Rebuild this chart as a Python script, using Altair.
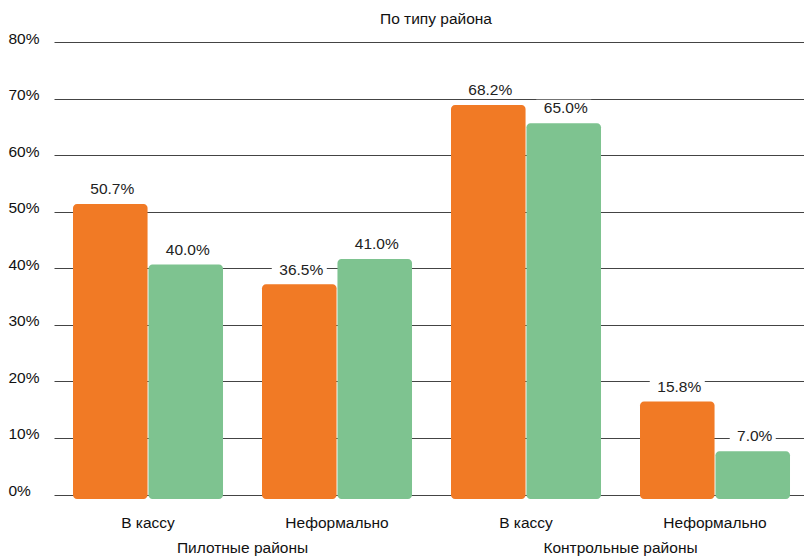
import altair as alt
import pandas as pd

# Survey shares by district type and payment channel
groups = ["Пилотные районы", "Пилотные районы", "Контрольные районы", "Контрольные районы"]
categories = ["В кассу", "Неформально", "В кассу", "Неформально"]
series_names = ["Серия 1", "Серия 2"]
series_1 = [50.7, 36.5, 68.2, 15.8]
series_2 = [40.0, 41.0, 65.0, 7.0]
series_colors = ["#F17A25", "#7EC390"]
y_ticks = [0, 10, 20, 30, 40, 50, 60, 70, 80]

keys = [f"{g}|{c}" for g, c in zip(groups, categories)]

rows = []
for k, v1, v2 in zip(keys, series_1, series_2):
    for name, v in zip(series_names, (v1, v2)):
        rows.append({"key": k, "series": name, "value": v, "base": 0, "label": f"{v:.1f}%"})
df = pd.DataFrame(rows)

group_rows = []
for g in dict.fromkeys(groups):
    first_key = keys[groups.index(g)]
    group_rows.append({"key": first_key, "group": g})
gdf = pd.DataFrame(group_rows)

FONT = "Liberation Sans"
PLOT_W, PLOT_H = 750, 452.5

x_enc = alt.X(
    "key:N",
    scale=alt.Scale(domain=keys, paddingInner=0.2063, paddingOuter=0.0873, align=0.576),
    axis=alt.Axis(
        title=None,
        domain=False,
        ticks=False,
        labelAngle=0,
        labelPadding=21,
        labelFontSize=15.5,
        labelColor="#111",
        labelExpr="split(datum.value, '|')[1]",
    ),
)
xoff_enc = alt.XOffset(
    "series:N", scale=alt.Scale(domain=series_names, paddingInner=0.012, paddingOuter=0)
)
y_enc = alt.Y(
    "value:Q",
    stack=None,
    scale=alt.Scale(domain=[0, 80], nice=False),
    axis=alt.Axis(
        title=None,
        values=y_ticks,
        domain=False,
        ticks=False,
        grid=True,
        gridColor="#444",
        gridWidth=1,
        labelAlign="left",
        labelPadding=46,
        labelOffset=-4,
        labelFontSize=15.5,
        labelColor="#111",
        labelExpr="datum.value + '%'",
    ),
)

# bars run a few pixels past the value and below the zero line
bars = alt.Chart(df).mark_bar(
    cornerRadius=4, yOffset=-3.7, y2Offset=4.5
).encode(
    x=x_enc,
    xOffset=xoff_enc,
    y=y_enc,
    y2=alt.Y2("base:Q"),
    color=alt.Color(
        "series:N",
        scale=alt.Scale(domain=series_names, range=series_colors),
        legend=None,
    ),
)

# white backing behind value labels so gridlines do not run through them
label_boxes = alt.Chart(df).transform_calculate(
    boxw="length(datum.label) * 9 + 10"
).mark_tick(color="white", opacity=1, thickness=17, yOffset=-18.5).encode(
    x=x_enc,
    xOffset=xoff_enc,
    y=alt.Y("value:Q"),
    size=alt.Size("boxw:Q", scale=None),
)

value_labels = alt.Chart(df).mark_text(
    font=FONT, fontSize=15.5, color="#222", baseline="middle", dy=-18.5, dx=2
).encode(
    x=x_enc,
    xOffset=xoff_enc,
    y=alt.Y("value:Q"),
    text="label:N",
)

group_labels = alt.Chart(gdf).mark_text(
    font=FONT, fontSize=15.5, color="#111", baseline="middle", dx=94.5
).encode(
    x=x_enc,
    y=alt.value(506),
    text="group:N",
)

chart = alt.layer(bars, label_boxes, value_labels, group_labels).properties(
    width=PLOT_W,
    height=PLOT_H,
    title=alt.TitleParams(
        "По типу района",
        font=FONT,
        fontSize=15.5,
        fontWeight="normal",
        color="#111",
        anchor="middle",
        dx=7,
        offset=4,
    ),
    autosize=alt.AutoSizeParams(type="none"),
    padding={"left": 54, "top": 42, "right": 0, "bottom": 61.5},
).configure(
    font=FONT
).configure_view(
    stroke=None
).configure_axis(
    labelFont=FONT
)

chart.save("out.html", embed_options={"renderer": "svg", "actions": False})
